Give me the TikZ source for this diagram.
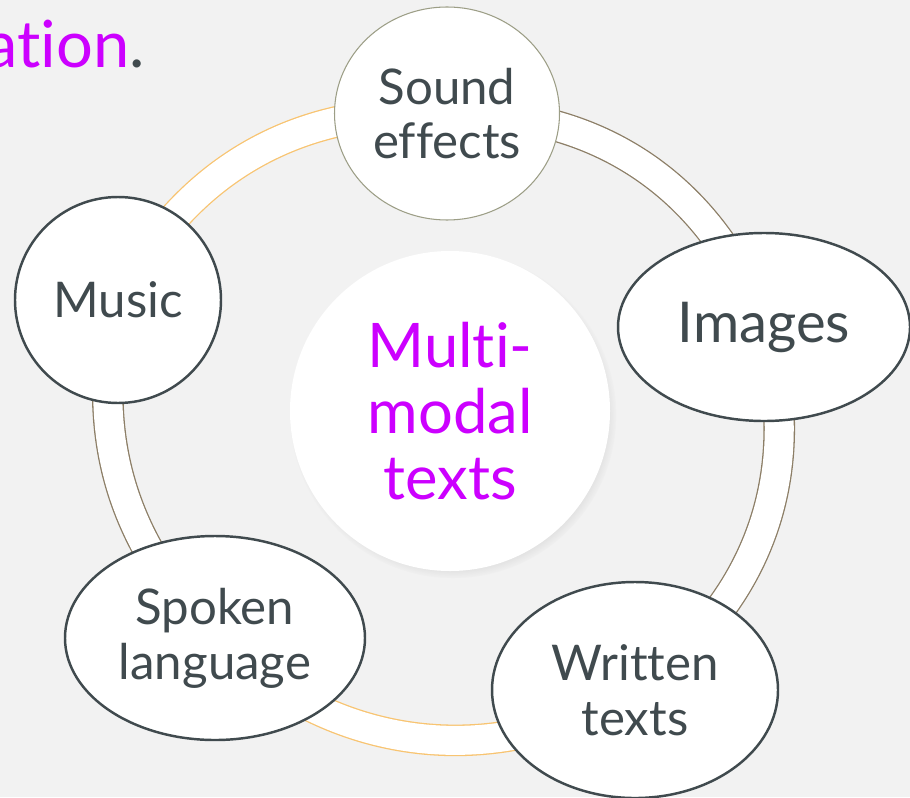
\documentclass[tikz,border=0pt]{standalone}
\usepackage{fontspec}
\setmainfont{Lato}[Ligatures=NoCommon]
\usetikzlibrary{positioning}
\usetikzlibrary{shapes.geometric}
\usetikzlibrary{shadows}
\usetikzlibrary{backgrounds}
\definecolor{slide}{HTML}{F2F2F2}
\definecolor{ink}{HTML}{404A4E}
\definecolor{headline}{HTML}{CC00FF}
\definecolor{amber}{HTML}{F8C471}
\definecolor{taupe}{HTML}{8C7E66}
\definecolor{sage}{HTML}{9C9E86}
\tikzset{
	every node/.style = {font=\fontsize{14}{15.6}\selectfont, text=ink, align=center},
	topic/.style = {ellipse, draw=ink, line width=0.7pt, fill=white, inner sep=0pt},
	ring/.style = {draw=#1, line width=0.37pt, double=white, double distance=0.29cm}
}

\begin{document}
\begin{tikzpicture}
		\clip (0,0) rectangle (9.1,-7.97);
		% centre
		\node[circle, fill=white, minimum size=3.2cm, text=headline,
			font=\fontsize{17.5}{18.8}\selectfont,
			circular drop shadow={shadow xshift=0.03cm, shadow yshift=-0.04cm, shadow scale=1.02, opacity=0.35}]
			(centre) at (4.50,-4.11) {Multi-\\modal\\texts};
		% topics round the ring
		\node[topic, draw=sage, line width=0.3pt, minimum width=2.25cm, minimum height=2.13cm] (sound) at (4.47,-1.135) {Sound\\effects};
		\node[topic, font=\fontsize{16}{18}\selectfont, minimum width=2.92cm, minimum height=1.88cm] (images) at (7.64,-3.27) {Images};
		\node[topic, minimum width=2.86cm, minimum height=2.16cm] (written) at (6.35,-6.90) {Written\\texts};
		\node[topic, minimum width=3.00cm, minimum height=2.04cm] (spoken) at (2.15,-6.38) {Spoken\\language};
		\node[topic, minimum width=2.06cm, minimum height=2.06cm] (music) at (1.18,-3.00) {Music};
		% title end
		\node[anchor=base east, text=headline, font=\fontsize{18.5}{20}\selectfont] (title) at (1.57,-0.68) {ation\textcolor{ink}{.}};
		% ring
		\begin{scope}[on background layer]
			\fill[slide] (0,0) rectangle (9.1,-7.97);
			\draw[ring=amber] (music.center) to[bend left=33] (sound.center);
			\draw[ring=taupe] (sound.center) to[bend left=36] (images.center);
			\draw[ring=taupe] (images.center) to[bend left=36] (written.center);
			\draw[ring=amber] (written.center) to[bend left=37] (spoken.center);
			\draw[ring=taupe] (spoken.center) to[bend left=28] (music.center);
		\end{scope}
	\end{tikzpicture}
\end{document}
